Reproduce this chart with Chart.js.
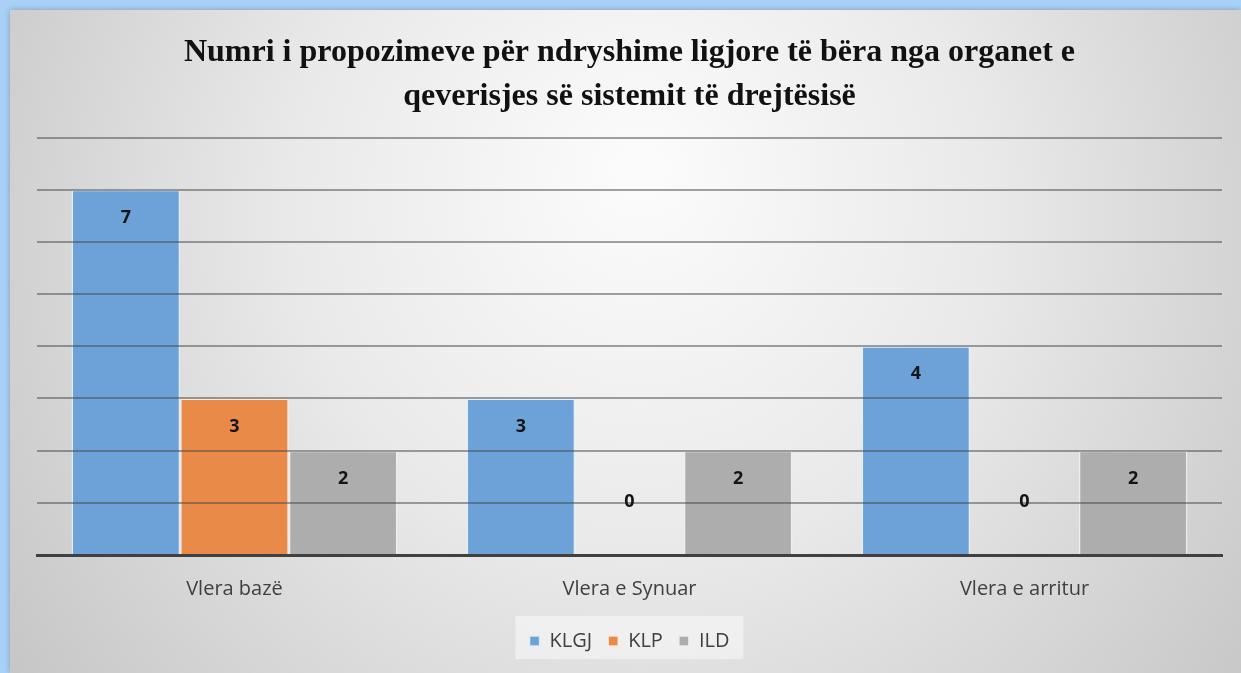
<!DOCTYPE html>
<html>
<head>
<meta charset="utf-8">
<script src="https://cdn.jsdelivr.net/npm/chart.js@4"></script>
<style>
  html, body { margin: 0; padding: 0; background: #a9d1f7; }
  #wrap { width: 1241px; height: 673px; position: relative; }
  canvas { display: block; }
</style>
</head>
<body>
<div id="wrap"><canvas id="c" width="1241" height="673"></canvas></div>
<script>
const categories = ["Vlera bazë", "Vlera e Synuar", "Vlera e arritur"];
const seriesNames = ["KLGJ", "KLP", "ILD"];
const klgj = [7, 3, 4];
const klp = [3, 0, 0];
const ild = [2, 2, 2];
const titleLines = ["Numri i propozimeve për ndryshime ligjore të bëra nga organet e", "qeverisjes së sistemit të drejtësisë"];

const colors = ["#6ca2d8", "#ea8a48", "#adadad"];

const bgPlugin = {
  id: 'bg',
  beforeDraw(chart) {
    const ctx = chart.ctx;
    const W = chart.width, H = chart.height;
    ctx.save();
    ctx.fillStyle = '#a9d1f7';
    ctx.fillRect(0, 0, W, H);
    const g = ctx.createRadialGradient(640, 170, 20, 640, 250, 760);
    g.addColorStop(0, '#fbfbfb');
    g.addColorStop(0.45, '#e9e9e9');
    g.addColorStop(1, '#c6c6c6');
    ctx.fillStyle = g;
    ctx.shadowColor = 'rgba(0,0,0,0.25)';
    ctx.shadowBlur = 6;
    ctx.fillRect(10, 10, W - 10, H - 10);
    ctx.restore();
    const lg = chart.legend;
    if (lg) {
      ctx.save();
      ctx.fillStyle = 'rgba(255,255,255,0.45)';
      ctx.fillRect(lg.left + (lg.width - 228) / 2, (lg.top + lg.bottom) / 2 - 22, 228, 43);
      ctx.restore();
    }
  }
};

// grid lines drawn over the bars (semi-transparent) from the y scale ticks, then value labels
const overlayPlugin = {
  id: 'overlay',
  afterDraw(chart) {
    const ctx = chart.ctx;
    const ys = chart.scales.y;
    const a = chart.chartArea;
    ctx.save();
    ctx.strokeStyle = 'rgba(70,70,70,0.5)';
    ctx.lineWidth = 2;
    ys.ticks.forEach(t => {
      if (t.value === ys.min) return;
      const y = Math.round(ys.getPixelForValue(t.value));
      ctx.beginPath();
      ctx.moveTo(a.left, y);
      ctx.lineTo(a.right, y);
      ctx.stroke();
    });
    ctx.font = 'bold 18px "Open Sans", "Liberation Sans", sans-serif';
    ctx.textAlign = 'center';
    ctx.textBaseline = 'middle';
    ctx.fillStyle = '#141414';
    chart.data.datasets.forEach((ds, di) => {
      const meta = chart.getDatasetMeta(di);
      meta.data.forEach((bar, i) => {
        const v = ds.data[i];
        const y = v === 0 ? ys.getPixelForValue(0) - 53 : ys.getPixelForValue(v) + 28;
        ctx.fillText(String(v), bar.x, y);
      });
    });
    ctx.restore();
  }
};

new Chart(document.getElementById('c'), {
  type: 'bar',
  data: {
    labels: categories,
    datasets: [
      { label: seriesNames[0], data: klgj, backgroundColor: colors[0], borderColor: 'rgba(225,238,250,0.9)', borderWidth: 1.5 },
      { label: seriesNames[1], data: klp, backgroundColor: colors[1], borderColor: 'rgba(250,235,225,0.9)', borderWidth: 1.5 },
      { label: seriesNames[2], data: ild, backgroundColor: colors[2], borderColor: 'rgba(240,240,240,0.9)', borderWidth: 1.5 }
    ]
  },
  options: {
    responsive: false,
    animation: false,
    layout: { padding: { top: 30, left: 37, right: 19, bottom: 12 } },
    datasets: { bar: { categoryPercentage: 0.825, barPercentage: 1.0 } },
    scales: {
      x: {
        grid: { display: false },
        border: { display: true, color: '#404040', width: 3, z: 2 },
        ticks: { color: '#404040', font: { family: '"Open Sans", "Liberation Sans", sans-serif', size: 20 }, padding: 14 }
      },
      y: {
        min: 0, max: 8,
        ticks: { display: false, stepSize: 1 },
        border: { display: false },
        grid: { display: false, drawTicks: false }
      }
    },
    plugins: {
      title: {
        display: true,
        text: titleLines,
        color: '#111',
        font: { family: '"Liberation Serif", "Times New Roman", serif', size: 32, weight: 'bold', lineHeight: 1.4 },
        padding: { top: 0, bottom: 18 }
      },
      legend: {
        position: 'bottom',
        labels: {
          boxWidth: 10, boxHeight: 10, color: '#404040',
          font: { family: '"Open Sans", "Liberation Sans", sans-serif', size: 20 },
          padding: 16
        }
      },
      tooltip: { enabled: false }
    }
  },
  plugins: [bgPlugin, overlayPlugin]
});
</script>
</body>
</html>
